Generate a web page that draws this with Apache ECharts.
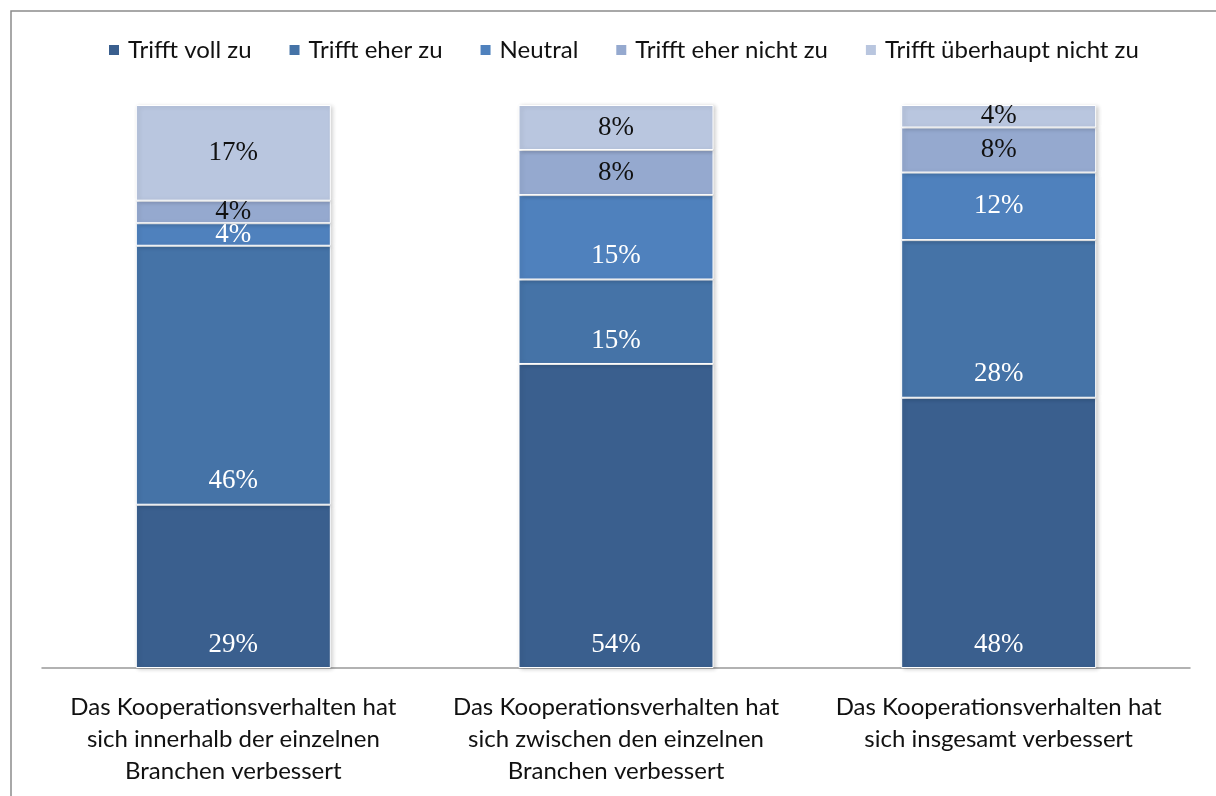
<!DOCTYPE html>
<html>
<head>
<meta charset="utf-8">
<script src="https://cdn.jsdelivr.net/npm/echarts@6/dist/echarts.min.js"></script>
<style>
  html, body { margin: 0; padding: 0; background: #fff; }
  #chart { width: 1216px; height: 796px; }
</style>
</head>
<body>
<div id="chart"></div>
<script>
var categories = [
  'Das Kooperationsverhalten hat\nsich innerhalb der einzelnen\nBranchen verbessert',
  'Das Kooperationsverhalten hat\nsich zwischen den einzelnen\nBranchen verbessert',
  'Das Kooperationsverhalten hat\nsich insgesamt verbessert'
];
var seriesNames = ['Trifft voll zu', 'Trifft eher zu', 'Neutral', 'Trifft eher nicht zu', 'Trifft überhaupt nicht zu'];
var vollZu = [29, 54, 48];
var eherZu = [46, 15, 28];
var neutral = [4, 15, 12];
var eherNicht = [4, 8, 8];
var nichtZu = [17, 8, 4];

var allValues = [vollZu, eherZu, neutral, eherNicht, nichtZu];
var colors = ['#3a5f8e', '#4573a7', '#4f81bd', '#95a9cf', '#b9c6df'];
var textColors = ['#fff', '#fff', '#fff', '#111', '#111'];

var chartDom = document.getElementById('chart');
var myChart = echarts.init(chartDom);

var series = [];
for (let s = 0; s < allValues.length; s++) {
  let data = [];
  for (let i = 0; i < allValues[s].length; i++) {
    let v = allValues[s][i];
    // larger segments of the lower series have their label near the bottom
    let bottom = s < 3 && v >= 15;
    data.push({
      value: v,
      label: bottom ? { position: 'insideBottom', distance: 10 } : { position: 'inside' }
    });
  }
  series.push({
    name: seriesNames[s],
    type: 'bar',
    stack: 'total',
    barWidth: 195,
    data: data,
    itemStyle: {
      color: colors[s],
      borderColor: '#fff',
      borderWidth: 1,
      shadowColor: 'rgba(0,0,0,0.18)',
      shadowBlur: 4,
      shadowOffsetX: 2,
      shadowOffsetY: 1
    },
    label: {
      show: true,
      formatter: '{c}%',
      fontFamily: 'Liberation Serif',
      fontSize: 27,
      color: textColors[s]
    }
  });
}

const option = {
  animation: false,
  backgroundColor: '#fff',
  graphic: [{
    type: 'rect',
    shape: { x: 11, y: 11, width: 1220, height: 800 },
    style: { fill: 'none', stroke: '#8c8c8c', lineWidth: 1.5 },
    silent: true
  }],
  legend: {
    top: 33,
    left: 102,
    itemWidth: 12,
    itemHeight: 12,
    itemGap: 36,
    icon: 'rect',
    textStyle: { fontFamily: 'Lato', fontSize: 24, color: '#111', padding: [0, 0, 0, 3] },
    data: seriesNames
  },
  grid: { left: 42, right: 26, top: 105, bottom: 128 },
  xAxis: {
    type: 'category',
    data: categories,
    axisTick: { show: false },
    axisLine: { show: true, lineStyle: { color: '#999', width: 1.5 } },
    axisLabel: {
      interval: 0,
      margin: 23,
      fontFamily: 'Lato',
      fontSize: 24,
      lineHeight: 32,
      color: '#111'
    }
  },
  yAxis: {
    type: 'value',
    min: 0,
    max: 100,
    show: false,
    splitLine: { show: false }
  },
  series: series
};

myChart.setOption(option);
</script>
</body>
</html>
